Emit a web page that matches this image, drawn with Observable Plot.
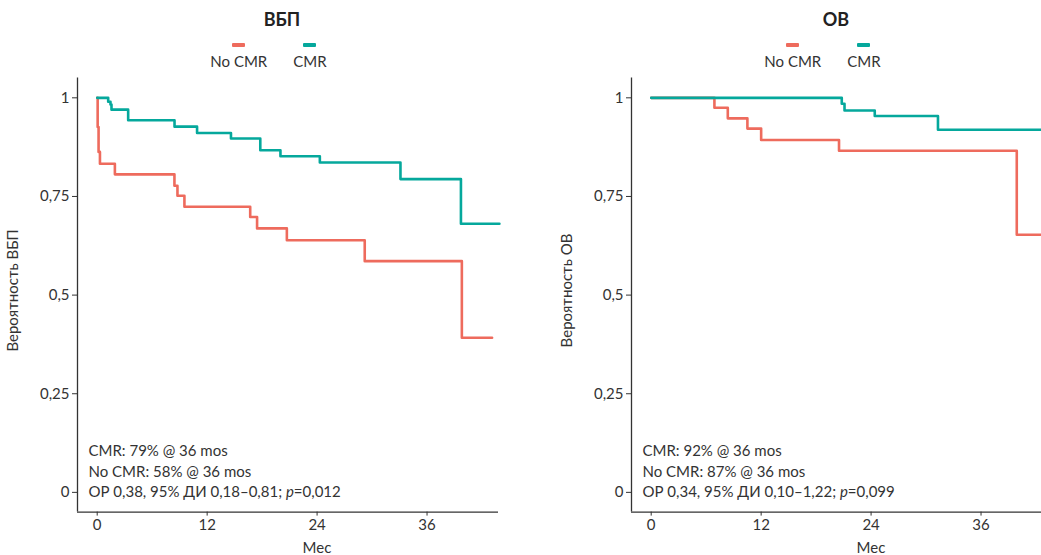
<!DOCTYPE html>
<html>
<head>
<meta charset="utf-8">
<script src="https://cdn.jsdelivr.net/npm/d3@7"></script>
<script src="https://cdn.jsdelivr.net/npm/@observablehq/plot@0.6"></script>
<style>
  html, body { margin: 0; padding: 0; background: #fff; }
  #wrap { position: relative; width: 1041px; height: 555px; overflow: hidden; font-family: Lato, "Noto Sans", sans-serif; color: #333; }
  .panel { position: absolute; top: 0; width: 554px; height: 555px; }
  .title { position: absolute; top: 8px; left: 0; width: 564px; text-align: center; font-weight: bold; font-size: 18px; color: #222; }
  .legend { position: absolute; top: 43px; left: 0; width: 537px; display: flex; justify-content: center; gap: 26px; font-size: 15px; color: #333; }
  .item { display: flex; flex-direction: column; align-items: center; }
  .sw { width: 13px; height: 4px; border-radius: 1px; margin-bottom: 5px; }
  .panel svg { position: absolute; top: 70px; left: 0; overflow: visible; }
</style>
</head>
<body>
<div id="wrap"></div>
<script>
// ---- data ----
const xTicks = [0, 12, 24, 36];
const yTicks = [0, 0.25, 0.5, 0.75, 1];
const yTickLabels = ["0", "0,25", "0,5", "0,75", "1"];
const groups = ["No CMR", "CMR"];
const colors = ["#ee6b5d", "#05a89c"];
const panelTitles = ["ВБП", "ОВ"];
const yLabels = ["Вероятность ВБП", "Вероятность ОВ"];
const xLabel = "Мес";

// PFS (ВБП)
const pfsNoTime = [0, 0.05, 0.15, 0.3, 1.93, 8.43, 8.76, 9.52, 16.7, 17.45, 20.7, 29.2, 39.8, 43.1];
const pfsNoSurv = [1, 0.926, 0.863, 0.833, 0.806, 0.777, 0.752, 0.724, 0.698, 0.669, 0.639, 0.586, 0.392, 0.392];
const pfsCmrTime = [0, 1.2, 1.45, 1.56, 3.38, 8.44, 10.9, 14.6, 17.8, 20.0, 24.3, 33.1, 39.7, 43.9];
const pfsCmrSurv = [1, 0.99, 0.983, 0.97, 0.943, 0.927, 0.911, 0.897, 0.867, 0.852, 0.836, 0.794, 0.681, 0.681];

// OS (ОВ)
const osNoTime = [0, 6.9, 8.36, 10.5, 12.0, 20.5, 39.9, 44];
const osNoSurv = [1, 0.975, 0.948, 0.922, 0.893, 0.866, 0.653, 0.653];
const osCmrTime = [0, 20.8, 21.1, 24.4, 31.3, 44];
const osCmrSurv = [1, 0.985, 0.968, 0.954, 0.919, 0.919];

const pfsNotes = ["CMR: 79% @ 36 mos", "No CMR: 58% @ 36 mos", "ОР 0,38, 95% ДИ 0,18–0,81; p=0,012"];
const osNotes = ["CMR: 92% @ 36 mos", "No CMR: 87% @ 36 mos", "ОР 0,34, 95% ДИ 0,10–1,22; p=0,099"];

// ---- build ----
const xDomain = [-2.15, 43.8];
const yDomain = [-0.05, 1.05];

function rows(times, survs, group) {
  return times.map((t, i) => ({t, s: survs[i], group}));
}

const panels = [
  {title: panelTitles[0], ylab: yLabels[0], notes: pfsNotes,
   data: [...rows(pfsNoTime, pfsNoSurv, groups[0]), ...rows(pfsCmrTime, pfsCmrSurv, groups[1])]},
  {title: panelTitles[1], ylab: yLabels[1], notes: osNotes,
   data: [...rows(osNoTime, osNoSurv, groups[0]), ...rows(osCmrTime, osCmrSurv, groups[1])]}
];

const wrap = document.getElementById("wrap");

panels.forEach((p, i) => {
  const panel = document.createElement("div");
  panel.className = "panel";
  panel.style.left = (i * 554) + "px";

  const title = document.createElement("div");
  title.className = "title";
  title.textContent = p.title;
  panel.appendChild(title);

  const legend = document.createElement("div");
  legend.className = "legend";
  groups.forEach((g, k) => {
    const it = document.createElement("div");
    it.className = "item";
    const sw = document.createElement("div");
    sw.className = "sw";
    sw.style.background = colors[k];
    const lb = document.createElement("div");
    lb.textContent = g;
    it.appendChild(sw); it.appendChild(lb);
    legend.appendChild(it);
  });
  panel.appendChild(legend);

  const fs = 15;
  const chart = Plot.plot({
    width: 554,
    height: 485,
    marginTop: 7.6,
    marginBottom: 43.4,
    marginLeft: 77,
    marginRight: 56,
    style: {fontFamily: "Lato, 'Noto Sans', sans-serif", fontSize: fs + "px", color: "#333", background: "transparent", overflow: "visible"},
    x: {domain: xDomain, ticks: xTicks, tickSize: 4, tickPadding: 3, label: null},
    y: {domain: yDomain, ticks: yTicks, tickFormat: d => yTickLabels[yTicks.indexOf(d)], tickSize: 5, tickPadding: 3, label: null},
    color: {domain: groups, range: colors},
    marks: [
      Plot.ruleX([xDomain[0]], {stroke: "#333", strokeWidth: 1.3}),
      Plot.ruleY([yDomain[0]], {stroke: "#333", strokeWidth: 1.3}),
      Plot.line(p.data, {x: "t", y: "s", z: "group", stroke: "group", curve: "step-after", strokeWidth: 2.6}),
      Plot.text([p.notes[0]], {frameAnchor: "bottom-left", dx: 11, dy: -61, text: d => d, textAnchor: "start", lineAnchor: "middle", fill: "#333", fontSize: fs}),
      Plot.text([p.notes[1]], {frameAnchor: "bottom-left", dx: 11, dy: -40, text: d => d, textAnchor: "start", lineAnchor: "middle", fill: "#333", fontSize: fs}),
      Plot.text([p.notes[2]], {frameAnchor: "bottom-left", dx: 11, dy: -20, text: d => d, textAnchor: "start", lineAnchor: "middle", fill: "#333", fontSize: fs}),
      Plot.text([xLabel], {frameAnchor: "bottom", dx: 29, dy: 36.4, text: d => d, textAnchor: "middle", lineAnchor: "middle", fill: "#333", fontSize: fs}),
      Plot.text([p.ylab], {frameAnchor: "left", dx: -64.5, dy: -4.6, text: d => d, rotate: -90, textAnchor: "middle", lineAnchor: "middle", fill: "#333", fontSize: fs})
    ]
  });

  // italic "p" in the statistics line
  d3.select(chart).selectAll("text").each(function () {
    const s = this.textContent;
    const k = s.indexOf("p=");
    if (k >= 0 && this.childElementCount === 0) {
      const el = d3.select(this);
      el.text(null);
      el.append("tspan").text(s.slice(0, k));
      el.append("tspan").attr("font-style", "italic").text("p");
      el.append("tspan").text(s.slice(k + 1));
    }
  });

  panel.appendChild(chart);
  wrap.appendChild(panel);
});
</script>
</body>
</html>
